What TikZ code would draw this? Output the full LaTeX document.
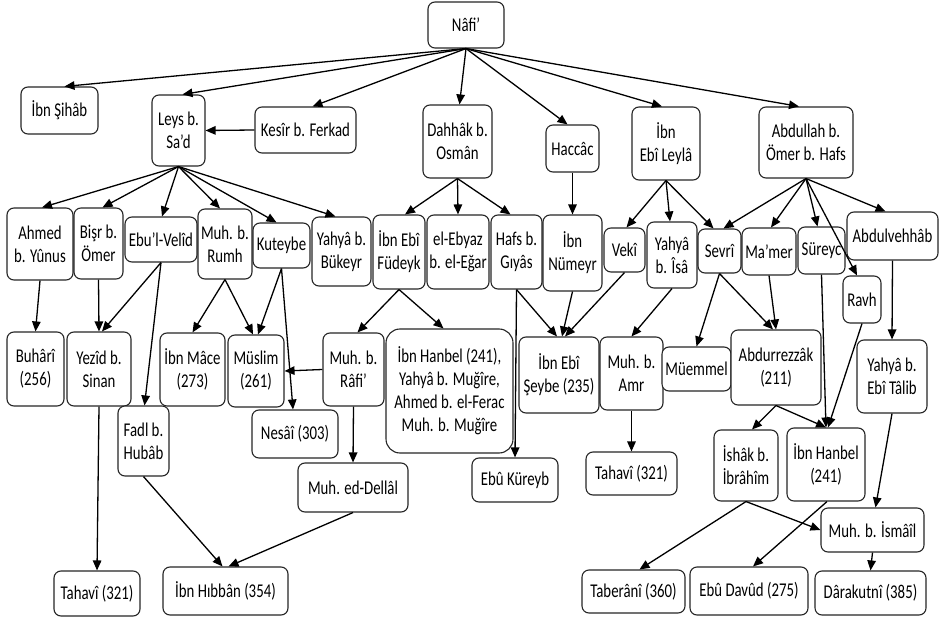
\documentclass[tikz,border=0pt]{standalone}
\usepackage{fontspec}
\setmainfont{Carlito}[FakeStretch=0.76]
\usetikzlibrary{arrows.meta}
\tikzset{
  bx/.style={draw=black!85, line width=1.1pt, rounded corners=7pt, inner sep=0pt, align=center, fill=white,
    font=\fontsize{19.5}{23}\selectfont},
  ar/.style={-{Triangle[length=10pt,width=8.5pt]}, line width=1.3pt, black}
}
\newcommand\bx[7][]{\node[bx,minimum width={#5pt-#3pt},minimum height={#6pt-#4pt},#1] (#2) at ({(#3+#5)/2},{(#4+#6)/2}) {#7};}
\begin{document}
\begin{tikzpicture}[x=1pt,y=-1pt]
\useasboundingbox[fill=white] (0,0) rectangle (941,617);
\bx{nafi}{428}{2}{504}{48}{Nâfi’}
\bx{sihab}{21}{87}{98}{134}{İbn Şihâb}
\bx{leys}{152}{95}{205}{166}{Leys b.\\Sa’d}
\bx{kesir}{255}{107}{356}{153}{Kesîr b. Ferkad}
\bx{dahhak}{423}{105}{492}{178}{Dahhâk b.\\Osmân}
\bx{haccac}{546}{125}{599}{172}{Haccâc}
\bx{leyla}{632}{107}{700}{180}{İbn\\Ebî Leylâ}
\bx{abdullah}{759}{107}{853}{178}{Abdullah b.\\Ömer b. Hafs}
\bx{ahmed}{7}{208}{73}{280}{Ahmed\\b. Yûnus}
\bx{bisr}{74}{208}{123}{279}{Bişr b.\\Ömer}
\bx{velid}{125}{217}{197}{262}{Ebu’l-Velîd}
\bx{rumh}{198}{209}{252}{279}{Muh. b.\\Rumh}
\bx{kuteybe}{253}{223}{310}{268}{Kuteybe}
\bx{bukeyr}{312}{217}{371}{286}{Yahyâ b.\\Bükeyr}
\bx{fudeyk}{373}{215}{425}{289}{İbn Ebî\\Füdeyk}
\bx{ebyaz}{427}{215}{489}{289}{el-Ebyaz\\b. el-Eğar}
\bx{hafs}{491}{215}{542}{289}{Hafs b.\\Gıyâs}
\bx{numeyr}{543}{215}{602}{291}{İbn\\Nümeyr}
\bx{veki}{604}{228}{645}{272}{Vekî}
\bx{yisa}{647}{222}{697}{288}{Yahyâ\\b. Îsâ}
\bx{sevri}{698}{229}{741}{273}{Sevrî}
\bx{mamer}{742}{228}{796}{275}{Ma’mer}
\bx{sureyc}{798}{227}{845}{274}{Süreyc}
\bx{vehhab}{847}{212}{938}{260}{Abdulvehhâb}
\bx{ravh}{843}{276}{881}{323}{Ravh}
\bx{buhari}{7}{332}{64}{406}{Buhârî\\(256)}
\bx{yezid}{67}{332}{131}{406}{Yezîd b.\\Sinan}
\bx{fadl}{118}{406}{169}{476}{Fadl b.\\Hubâb}
\bx{mace}{160}{333}{225}{406}{İbn Mâce\\(273)}
\bx{muslim}{228}{335}{284}{407}{Müslim\\(261)}
\bx{nesai}{252}{410}{338}{458}{Nesâî (303)}
\bx{rafi}{323}{333}{384}{406}{Muh. b.\\Râfi’}
\bx[rounded corners=14pt]{hanbelg}{386}{329}{513}{453}{İbn Hanbel (241),\\Yahyâ b. Muğîre,\\Ahmed b. el-Ferac\\Muh. b. Muğîre}
\bx{dellal}{298}{463}{408}{512}{Muh. ed-Dellâl}
\bx{tahavil}{54}{571}{140}{616}{Tahavî (321)}
\bx{hibban}{163}{567}{288}{615}{İbn Hıbbân (354)}
\bx{kureyb}{472}{458}{558}{502}{Ebû Küreyb}
\bx{seybe}{519}{337}{599}{413}{İbn Ebî\\Şeybe (235)}
\bx{amr}{600}{337}{663}{410}{Muh. b.\\Amr}
\bx{muemmel}{662}{347}{731}{391}{Müemmel}
\bx{rezzak}{731}{330}{821}{405}{Abdurrezzâk\\(211)}
\bx{talib}{857}{340}{927}{413}{Yahyâ b.\\Ebî Tâlib}
\bx{tahavir}{586}{452}{677}{495}{Tahavî (321)}
\bx{ishak}{714}{430}{778}{501}{İshâk b.\\İbrâhîm}
\bx{hanbel}{787}{428}{865}{501}{İbn Hanbel\\(241)}
\bx{ismail}{821}{508}{924}{552}{Muh. b. İsmâîl}
\bx{taberani}{582}{570}{685}{613}{Taberânî (360)}
\bx{davud}{690}{567}{808}{615}{Ebû Davûd (275)}
\bx{darakutni}{815}{571}{926}{615}{Dârakutnî (385)}
% edges
\draw[ar] (nafi.south) -- ([xshift=5pt]sihab.north);
\draw[ar] (nafi.south) -- ([xshift=4pt]leys.north);
\draw[ar] (nafi.south) -- ([xshift=7pt]kesir.north);
\draw[ar] (nafi.south) -- ([xshift=2pt]dahhak.north);
\draw[ar] (nafi.south) -- ([xshift=-5pt]haccac.north);
\draw[ar] (nafi.south) -- ([xshift=-4pt]leyla.north);
\draw[ar] (nafi.south) -- ([xshift=-7pt]abdullah.north);
\draw[ar] (kesir.west) -- (leys.east);
\draw[ar] (leys.south) -- ([xshift=2pt]ahmed.north);
\draw[ar] (leys.south) -- ([xshift=4pt]bisr.north);
\draw[ar] (leys.south) -- ([xshift=1pt]velid.north);
\draw[ar] (leys.south) -- ([xshift=-5pt]rumh.north);
\draw[ar] (leys.south) -- ([xshift=-5pt]kuteybe.north);
\draw[ar] (leys.south) -- ([xshift=-6pt]bukeyr.north);
\draw[ar] (dahhak.south) -- ([xshift=6pt]fudeyk.north);
\draw[ar] (dahhak.south) -- (ebyaz.north);
\draw[ar] (dahhak.south) -- ([xshift=-6pt]hafs.north);
\draw[ar] (haccac.south) -- (numeyr.north);
\draw[ar] (leyla.south) -- ([xshift=2pt]veki.north);
\draw[ar] (leyla.south) -- ([xshift=-2pt]yisa.north);
\draw[ar] (leyla.south) -- ([xshift=-6pt]sevri.north);
\draw[ar] (abdullah.south) -- ([xshift=4pt]sevri.north);
\draw[ar] (abdullah.south) -- ([xshift=2pt]mamer.north);
\draw[ar] (abdullah.south) -- ([xshift=-4pt]sureyc.north);
\draw[ar] (abdullah.south) -- ([xshift=-5pt]ravh.north);
\draw[ar] (abdullah.south) -- ([xshift=-7pt]vehhab.north);
\draw[ar] (ahmed.south) -- (buhari.north);
\draw[ar] (bisr.south) -- (yezid.north);
\draw[ar] (velid.south) -- ([xshift=3pt]yezid.north);
\draw[ar] (velid.south) -- ([xshift=1pt]fadl.north);
\draw[ar] (rumh.south) -- (mace.north);
\draw[ar] (rumh.south) -- ([xshift=-3pt]muslim.north);
\draw[ar] (kuteybe.south) -- ([xshift=2pt]muslim.north);
\draw[ar] (kuteybe.south) -- ([xshift=-2pt]nesai.north);
\draw[ar] (fudeyk.south) -- ([xshift=4pt]rafi.north);
\draw[ar] (fudeyk.south) -- ([xshift=-6pt]hanbelg.north);
\draw[ar] (rafi.west) -- (muslim.east);
\draw[ar] (rafi.south) -- (dellal.north);
\draw[ar] (hafs.south) -- (kureyb.north);
\draw[ar] (hafs.south) -- ([xshift=-2pt]seybe.north);
\draw[ar] (numeyr.south) -- ([xshift=3pt]seybe.north);
\draw[ar] (veki.south) -- ([xshift=6pt]seybe.north);
\draw[ar] (yisa.south) -- (amr.north);
\draw[ar] (sevri.south) -- (muemmel.north);
\draw[ar] (sevri.south) -- ([xshift=-3pt]rezzak.north);
\draw[ar] (mamer.south) -- (rezzak.north);
\draw[ar] (sureyc.south) -- (hanbel.north);
\draw[ar] (ravh.south) -- ([xshift=2pt]hanbel.north);
\draw[ar] (vehhab.south) -- (talib.north);
\draw[ar] (yezid.south) -- (tahavil.north);
\draw[ar] (fadl.south) -- ([xshift=-3pt]hibban.north);
\draw[ar] (dellal.south) -- ([xshift=3pt]hibban.north);
\draw[ar] (amr.south) -- (tahavir.north);
\draw[ar] (rezzak.south) -- ([xshift=6pt]ishak.north);
\draw[ar] (rezzak.south) -- (hanbel.north);
\draw[ar] (ishak.south) -- ([xshift=6pt]taberani.north);
\draw[ar] (ishak.south) -- (ismail.west);
\draw[ar] ([xshift=1pt]hanbel.south) -- ([xshift=4pt]davud.north);
\draw[ar] (talib.south) -- ([xshift=3pt]ismail.north);
\draw[ar] (ismail.south) -- (darakutni.north);
\end{tikzpicture}
\end{document}
